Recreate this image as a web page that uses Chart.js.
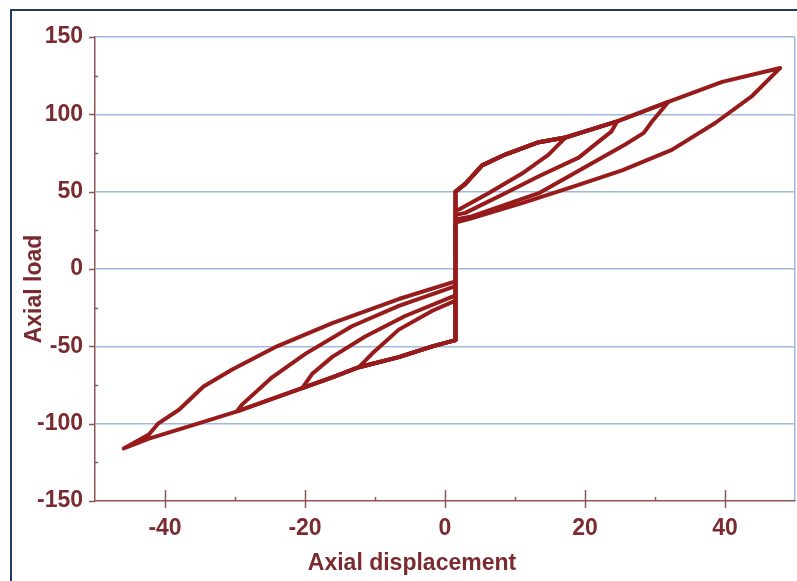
<!DOCTYPE html>
<html>
<head>
<meta charset="utf-8">
<script src="https://cdn.jsdelivr.net/npm/chart.js@4.4.1/dist/chart.umd.min.js"></script>
<style>
  html, body { margin: 0; padding: 0; background: #fff; }
</style>
</head>
<body>
<canvas id="hyst" width="797" height="581"></canvas>
<script>
// hysteresis loops (displacement / load)
const loop1Disp = [1.5, 2.9, 5.3, 8.6, 13.4, 17.2, 14.8, 11, 6.2, 2, 1.5, 1.5, -1.8, -6.6, -12.3, -10.4, -6.6, -1.8, 1.5, 1.5];
const loop1Load = [50, 55, 67, 74, 82, 85, 74, 61.7, 49, 38.5, 38, -46, -50, -57, -63.5, -54.7, -39.2, -27, -20.5, 50];

const loop2Disp = [1.5, 2.9, 5.3, 8.6, 13.4, 17.2, 24.6, 23.8, 21.5, 19.1, 13.4, 8.6, 2.9, 1.5, 1.5, -1.8, -6.6, -12.3, -16.1, -20.4, -19, -16.1, -11.4, -5.7, 1.5, 1.5];
const loop2Load = [50, 55, 67, 74, 82, 85, 95.5, 89, 80.7, 72, 60, 49, 36.3, 35, -46, -50, -57, -63.5, -70, -77, -67.9, -56.8, -43.6, -30.4, -17, 50];

const loop3Disp = [1.5, 2.9, 5.3, 8.6, 13.4, 17.2, 24.6, 31.9, 29.6, 28.4, 25.8, 13.4, 3.8, 1.5, 1.5, -1.8, -6.6, -12.3, -16.1, -20.4, -29.7, -29, -24.7, -19.9, -13.3, -6.6, 1.5, 1.5];
const loop3Load = [50, 55, 67, 74, 82, 85, 95.5, 108, 95.5, 88, 80.7, 49, 34, 32, -46, -50, -57, -63.5, -70, -77, -92, -87.7, -70, -54.7, -37, -23.8, -11, 50];

const loop4Disp = [1.5, 2.9, 5.3, 8.6, 13.4, 17.2, 24.6, 31.9, 39.6, 47.9, 43.9, 38.6, 32.4, 25.3, 18.1, 11, 3.9, 1.5, 1.5, -1.8, -6.6, -12.3, -16.1, -20.4, -29.7, -35.2, -42.3, -45.9, -42.3, -41, -38, -34.5, -30.4, -24, -16.1, -6.6, 1.5];
const loop4Load = [50, 55, 67, 74, 82, 85, 95.5, 108, 121, 130, 112, 94.4, 77, 63.8, 53, 42.6, 33, 30, -46, -50, -57, -63.5, -70, -77, -92, -99.8, -109.7, -116, -107, -100, -91, -76, -65, -50, -35, -19.4, -8];

const xMajorTicks = [-40, -20, 0, 20, 40];
const xMinorTicks = [-30, -10, 10, 30];
const yMajorTicks = [-150, -100, -50, 0, 50, 100, 150];
const yMinorTicks = [-125, -75, -25, 25, 75, 125];

const lineColor = '#981b1b';
const textColor = '#7a2b30';
const axisColor = '#8e5656';
const gridColor = '#9db9dc';
const labelFont = { family: '"Liberation Sans", Arial, sans-serif', size: 23, weight: 'bold' };

function pts(xs, ys) {
  return xs.map((x, i) => ({ x: x, y: ys[i] }));
}

const extras = {
  id: 'extras',
  beforeDraw(chart) {
    const c = chart.ctx;
    c.save();
    c.fillStyle = '#fff';
    c.fillRect(0, 0, chart.width, chart.height);
    c.strokeStyle = '#1f3a64';
    c.lineWidth = 2;
    c.beginPath();
    c.moveTo(11, chart.height);
    c.lineTo(11, 10);
    c.lineTo(chart.width, 10);
    c.stroke();
    c.restore();
  },
  afterDraw(chart) {
    const c = chart.ctx;
    const xs = chart.scales.x, ys = chart.scales.y;
    const a = chart.chartArea;
    c.save();
    c.strokeStyle = axisColor;
    c.lineWidth = 1.5;
    c.beginPath();
    xMajorTicks.forEach(v => {
      const p = Math.round(xs.getPixelForValue(v)) + 0.5;
      c.moveTo(p, a.bottom - 11); c.lineTo(p, a.bottom + 7);
    });
    xMinorTicks.forEach(v => {
      const p = Math.round(xs.getPixelForValue(v)) + 0.5;
      c.moveTo(p, a.bottom - 4); c.lineTo(p, a.bottom);
    });
    yMajorTicks.forEach(v => {
      const p = Math.round(ys.getPixelForValue(v)) + 0.5;
      c.moveTo(a.left - 6, p); c.lineTo(a.left, p);
    });
    yMinorTicks.forEach(v => {
      const p = Math.round(ys.getPixelForValue(v)) + 0.5;
      c.moveTo(a.left, p); c.lineTo(a.left + 3, p);
    });
    c.stroke();

    // axis titles
    c.fillStyle = textColor;
    c.font = 'bold 23px "Liberation Sans", Arial, sans-serif';
    c.textAlign = 'center';
    c.textBaseline = 'middle';
    c.fillText('Axial displacement', 412, 564);
    c.translate(35, 289);
    c.rotate(-Math.PI / 2);
    c.fillText('Axial load', 0, 0);
    c.restore();
  }
};

const loopStyle = {
  borderColor: lineColor,
  borderWidth: 4,
  pointRadius: 0,
  showLine: true,
  tension: 0,
  fill: false,
  borderJoinStyle: 'round',
  borderCapStyle: 'round'
};

new Chart(document.getElementById('hyst'), {
  type: 'scatter',
  data: {
    datasets: [
      Object.assign({ label: 'Loop 1', data: pts(loop1Disp, loop1Load) }, loopStyle),
      Object.assign({ label: 'Loop 2', data: pts(loop2Disp, loop2Load) }, loopStyle),
      Object.assign({ label: 'Loop 3', data: pts(loop3Disp, loop3Load) }, loopStyle),
      Object.assign({ label: 'Loop 4', data: pts(loop4Disp, loop4Load) }, loopStyle)
    ]
  },
  plugins: [extras],
  options: {
    responsive: false,
    animation: false,
    layout: { padding: { top: 37, right: 2, left: 0, bottom: 0 } },
    plugins: {
      legend: { display: false },
      tooltip: { enabled: false }
    },
    scales: {
      x: {
        type: 'linear',
        min: -50,
        max: 50,
        afterFit: s => { s.height = 80; s.paddingLeft = 0; s.paddingRight = 0; },
        ticks: {
          stepSize: 10,
          autoSkip: false,
          maxRotation: 0,
          padding: 14,
          color: textColor,
          font: labelFont,
          callback: v => xMajorTicks.includes(v) ? v : ''
        },
        grid: {
          drawTicks: false,
          color: ctx => (ctx.tick && ctx.tick.value === 50) ? gridColor : 'transparent',
          lineWidth: 1.5
        },
        border: { color: axisColor, width: 1.5 }
      },
      y: {
        min: -150,
        max: 150,
        afterFit: s => { s.width = 95; },
        ticks: {
          stepSize: 25,
          autoSkip: false,
          padding: 12,
          color: textColor,
          font: labelFont,
          callback: v => yMajorTicks.includes(v) ? v : ''
        },
        grid: {
          drawTicks: false,
          color: ctx => (ctx.tick && yMajorTicks.includes(ctx.tick.value) && ctx.tick.value > -150) ? gridColor : 'transparent',
          lineWidth: 1.5
        },
        border: { color: axisColor, width: 1.5 }
      }
    }
  }
});
</script>
</body>
</html>
